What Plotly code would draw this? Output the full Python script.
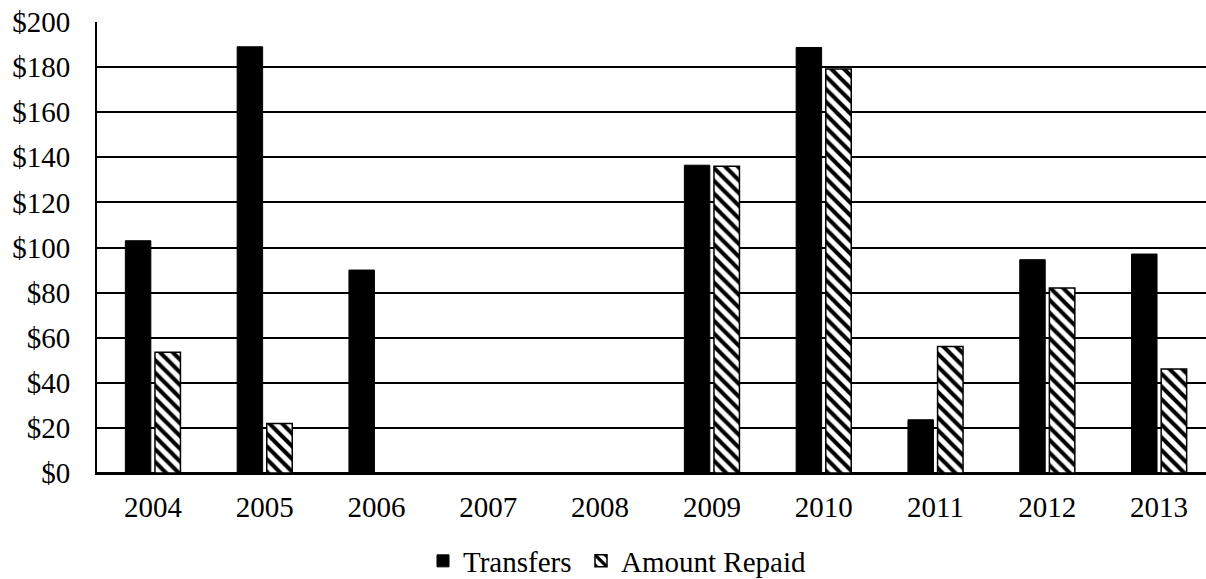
import plotly.graph_objects as go

years = ["2004", "2005", "2006", "2007", "2008", "2009", "2010", "2011", "2012", "2013"]
transfers = [103, 189, 90, None, None, 136.5, 188.7, 23.6, 94.6, 97.1]
repaid = [53.5, 22, None, None, None, 136, 179.2, 56.1, 82, 46.1]
ytick_vals = [0, 20, 40, 60, 80, 100, 120, 140, 160, 180, 200]
ytick_text = ["$" + str(v) for v in ytick_vals]

FONT = "Liberation Serif, Times New Roman, serif"
FS = 29
W, H = 1215, 579

fig = go.Figure()
fig.add_trace(go.Bar(
    x=years, y=transfers, name="Transfers", legend="legend",
    marker=dict(color="black", line=dict(color="black", width=1)),
))
fig.add_trace(go.Bar(
    x=years, y=repaid, name="Amount Repaid", legend="legend2",
    marker=dict(color="white", line=dict(color="black", width=1.5),
                pattern=dict(shape="\\", fgcolor="black", bgcolor="white",
                             size=9, solidity=0.45, fillmode="replace")),
))

leg_common = dict(orientation="h", xref="container", yref="container",
                  xanchor="left", yanchor="middle", y=1 - 561 / H,
                  font=dict(family=FONT, size=FS, color="black"),
                  itemwidth=30, bgcolor="rgba(0,0,0,0)")

fig.update_layout(
    width=W, height=H,
    margin=dict(l=97, r=0, t=22, b=106, autoexpand=False),
    paper_bgcolor="white", plot_bgcolor="white",
    barmode="group", bargap=0.47, bargroupgap=0.14,
    font=dict(family=FONT, size=FS, color="black"),
    showlegend=True,
    legend=dict(x=423 / W, **leg_common),
    legend2=dict(x=581 / W, **leg_common),
    xaxis=dict(showline=True, linecolor="black", linewidth=2, showgrid=False,
               ticks="", ticklabelstandoff=7, automargin=False,
               ticklabeloverflow="allow",
               tickfont=dict(family=FONT, size=FS, color="black")),
    yaxis=dict(range=[0, 200], tickvals=ytick_vals, ticktext=ytick_text,
               showgrid=True, gridcolor="black", gridwidth=2,
               showline=True, linecolor="black", linewidth=2,
               zeroline=True, zerolinecolor="black", zerolinewidth=2,
               ticks="", ticklabelstandoff=19, automargin=False,
               ticklabeloverflow="allow",
               tickfont=dict(family=FONT, size=FS, color="black")),
)

fig.write_html(
    "out.html",
    config={"displayModeBar": False},
    post_script="document.documentElement.style.overflow='hidden';"
                "document.body.style.overflow='hidden';"
                "document.body.style.margin='0px';",
)
